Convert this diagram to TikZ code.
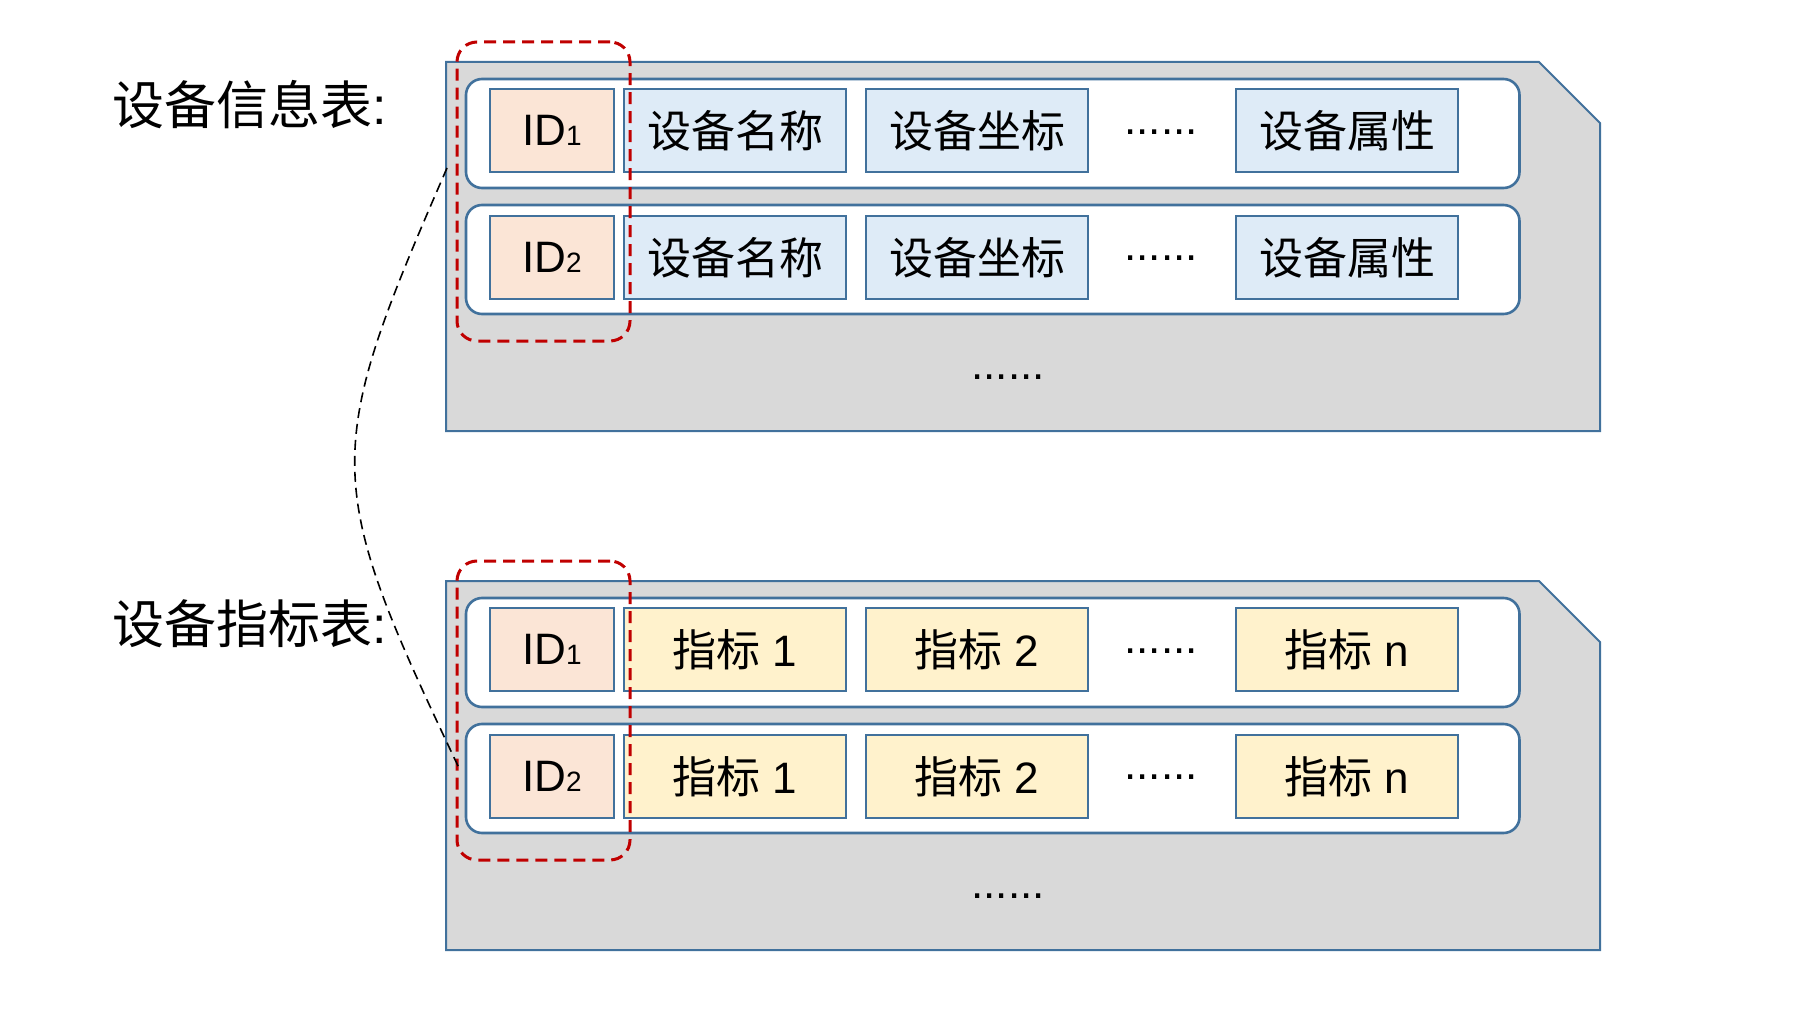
\documentclass[tikz,border=0pt]{standalone}
\usepackage{fontspec}
\setmainfont{Liberation Sans}
\newfontfamily\cjk{Noto Sans CJK SC}
\usetikzlibrary{positioning}
\definecolor{tablegray}{HTML}{D9D9D9}
\definecolor{lineblue}{HTML}{41719C}
\definecolor{idfill}{HTML}{FBE5D6}
\definecolor{infofill}{HTML}{DEEBF7}
\definecolor{kpifill}{HTML}{FFF2CC}
\definecolor{markred}{HTML}{C00000}

\begin{document}
\begin{tikzpicture}[
    x=0.5pt, y=-0.5pt,
    node distance=5pt,
    tableframe/.style={draw=lineblue, line width=1pt, fill=tablegray},
    rowbox/.style={draw=lineblue, line width=1.3pt, fill=white, rounded corners=8pt, minimum width=526.75pt, minimum height=54.5pt, inner sep=0pt, outer sep=0pt},
    idbox/.style={draw=lineblue, line width=1.4pt, fill=idfill, minimum width=62pt, minimum height=41.5pt, inner sep=0pt, outer sep=0pt, font=\fontsize{22}{26}\selectfont},
    infobox/.style={idbox, fill=infofill, minimum width=111pt, font=\cjk\fontsize{22}{26}\selectfont},
    kpibox/.style={idbox, fill=kpifill, minimum width=111pt},
    moredots/.style={font=\fontsize{22}{26}\selectfont, inner sep=0pt, anchor=base},
    tabletitle/.style={font=\fontsize{26}{30}\selectfont, anchor=west, inner sep=0pt},
    idgroup/.style={draw=markred, line width=1.5pt, dash pattern=on 6pt off 3.5pt, rounded corners=10pt, minimum width=86.5pt, minimum height=149.5pt},
    link/.style={dash pattern=on 5pt off 3pt, line width=0.8pt}
  ]
    \useasboundingbox (0,0) rectangle (1816,1022);

    % device info table
    \node[tabletitle] (t1) at (112,105) {{\cjk 设备信息表}:};
    \draw[tableframe] (446,62) -- (1539,62) -- (1600,123) -- (1600,431) -- (446,431) -- cycle;
    \node[rowbox] (r11) at (992.75,133.5) {};
    \node[rowbox, below=8.5pt of r11] (r12) {};

    \node[idbox, right=12pt of r11.west, yshift=1.5pt] (id11) {ID{\fontsize{14}{16}\selectfont 1}};
    \node[infobox, right=of id11] (n11) {设备名称};
    \node[infobox, right=10pt of n11] (c11) {设备坐标};
    \node[infobox, right=74pt of c11] (a11) {设备属性};
    \node[moredots] (d11) at (1161,134) {......};

    \node[idbox, right=12pt of r12.west, yshift=1pt] (id12) {ID{\fontsize{14}{16}\selectfont 2}};
    \node[infobox, right=of id12] (n12) {设备名称};
    \node[infobox, right=10pt of n12] (c12) {设备坐标};
    \node[infobox, right=74pt of c12] (a12) {设备属性};
    \node[moredots] (d12) at (1161,260) {......};

    \node[moredots] (d13) at (1008,379) {......};
    \node[idgroup] (g1) at (543.5,191.5) {};

    % device indicator table
    \node[tabletitle] (t2) at (112,624) {{\cjk 设备指标表}:};
    \draw[tableframe] (446,581) -- (1539,581) -- (1600,642) -- (1600,950) -- (446,950) -- cycle;
    \node[rowbox] (r21) at (992.75,652.5) {};
    \node[rowbox, below=8.5pt of r21] (r22) {};

    \node[idbox, right=12pt of r21.west, yshift=1.5pt] (id21) {ID{\fontsize{14}{16}\selectfont 1}};
    \node[kpibox, right=of id21] (k211) {{\cjk 指标} 1};
    \node[kpibox, right=10pt of k211] (k212) {{\cjk 指标} 2};
    \node[kpibox, right=74pt of k212] (k21n) {{\cjk 指标} n};
    \node[moredots] (d21) at (1161,653) {......};

    \node[idbox, right=12pt of r22.west, yshift=1pt] (id22) {ID{\fontsize{14}{16}\selectfont 2}};
    \node[kpibox, right=of id22] (k221) {{\cjk 指标} 1};
    \node[kpibox, right=10pt of k221] (k222) {{\cjk 指标} 2};
    \node[kpibox, right=74pt of k222] (k22n) {{\cjk 指标} n};
    \node[moredots] (d22) at (1161,779) {......};

    \node[moredots] (d23) at (1008,898) {......};
    \node[idgroup] (g2) at (543.5,710.5) {};

    % id link
    \coordinate (lnk1) at (447,168);
    \coordinate (lnk2) at (459,768);
    \draw[link] (lnk1) .. controls (322,455) and (322,480) .. (lnk2);
  \end{tikzpicture}
\end{document}
